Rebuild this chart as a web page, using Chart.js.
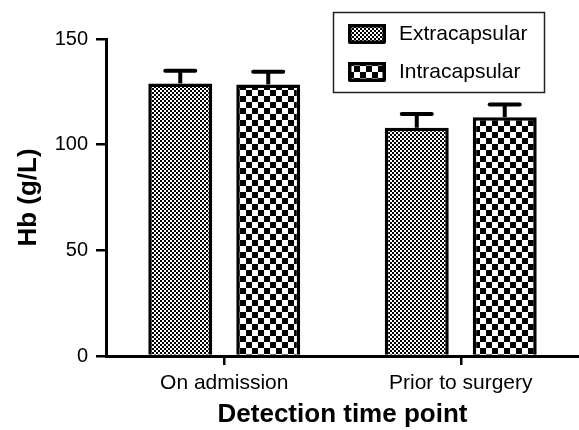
<!DOCTYPE html>
<html><head><meta charset="utf-8">
<script src="https://cdn.jsdelivr.net/npm/chart.js@4"></script>
<style>html,body{margin:0;padding:0;background:#fff}#wrap{width:579px;height:430px}</style>
</head><body><div id="wrap"><canvas id="c" width="579" height="430"></canvas></div>
<script>
const categories = ['On admission', 'Prior to surgery'];
const seriesNames = ['Extracapsular', 'Intracapsular'];
const extracapsular = [129, 108];
const extracapsularErr = [6, 6.5];
const intracapsular = [128.5, 113];
const intracapsularErr = [6, 6];
const yTicks = [0, 50, 100, 150];

const FAM = '"Liberation Sans", Arial, sans-serif';
const canvas = document.getElementById('c');
const ctx = canvas.getContext('2d');

function makePattern(cell, ink) {
  const c = document.createElement('canvas');
  c.width = c.height = cell * 2;
  const g = c.getContext('2d');
  g.fillStyle = '#fff'; g.fillRect(0, 0, cell * 2, cell * 2);
  g.fillStyle = '#000';
  g.fillRect(0, 0, ink, ink);
  g.fillRect(cell, cell, ink, ink);
  return ctx.createPattern(c, 'repeat');
}
const finePattern = makePattern(2, 2);
const coarsePattern = makePattern(6, 6);

const errorBars = {
  id: 'errorBars',
  afterDatasetsDraw(chart) {
    const c = chart.ctx, y = chart.scales.y;
    chart.data.datasets.forEach((ds, di) => {
      const meta = chart.getDatasetMeta(di);
      meta.data.forEach((bar, i) => {
        const top = y.getPixelForValue(ds.data[i] + ds.errors[i]);
        c.save();
        c.strokeStyle = '#000';
        c.lineWidth = 4;
        c.beginPath(); c.moveTo(bar.x, bar.y); c.lineTo(bar.x, top); c.stroke();
        c.lineCap = 'round';
        c.beginPath(); c.moveTo(bar.x - 15, top); c.lineTo(bar.x + 15, top); c.stroke();
        c.restore();
      });
    });
  }
};

const legendBox = {
  id: 'legendBox',
  afterDraw(chart) {
    const c = chart.ctx;
    c.save();
    c.strokeStyle = '#222'; c.lineWidth = 1.5;
    c.strokeRect(333.5, 12.5, 211, 80);
    chart.data.datasets.forEach((ds, i) => {
      const y0 = 24 + i * 38;
      c.fillStyle = ds.backgroundColor;
      c.fillRect(348, y0, 38, 20);
      c.strokeStyle = '#000'; c.lineWidth = 3.5;
      c.lineJoin = 'round';
      c.strokeRect(349.75, y0 + 1.75, 34.5, 16.5);
      c.fillStyle = '#000';
      c.font = '21px ' + FAM;
      c.textBaseline = 'middle'; c.textAlign = 'left';
      c.fillText(ds.label, 399, y0 + 10);
    });
    c.restore();
  }
};

new Chart(ctx, {
  type: 'bar',
  data: {
    labels: categories,
    datasets: [
      { label: seriesNames[0], data: extracapsular, errors: extracapsularErr,
        backgroundColor: finePattern, borderColor: '#000', borderWidth: 3.5,
        categoryPercentage: 0.744, barPercentage: 0.727 },
      { label: seriesNames[1], data: intracapsular, errors: intracapsularErr,
        backgroundColor: coarsePattern, borderColor: '#000', borderWidth: 3.5,
        categoryPercentage: 0.744, barPercentage: 0.727 }
    ]
  },
  options: {
    responsive: false, animation: false, devicePixelRatio: 1,
    layout: { padding: { left: 4, top: 39, right: 0, bottom: 0 } },
    plugins: { legend: { display: false }, tooltip: { enabled: false } },
    scales: {
      x: {
        grid: { display: true, offset: false, drawOnChartArea: false, drawTicks: true, tickLength: 9, color: '#000', lineWidth: 2.5 },
        border: { display: true, color: '#000', width: 3 },
        ticks: { font: { family: FAM, size: 21 }, color: '#000', padding: 6 },
        title: { display: true, text: 'Detection time point', color: '#000',
          font: { family: FAM, size: 26, weight: 'bold' }, padding: { top: 0, bottom: 0 } },
        afterFit(s) { s.height = 74; }
      },
      y: {
        min: 0, max: 150,
        afterBuildTicks(s) { s.ticks = yTicks.map(v => ({ value: v })); },
        grid: { drawOnChartArea: false, drawTicks: true, tickLength: 10, color: '#000', lineWidth: 2.5 },
        border: { display: true, color: '#000', width: 3 },
        ticks: { font: { family: FAM, size: 20 }, color: '#000', padding: 8 },
        title: { display: true, text: 'Hb (g/L)', color: '#000',
          font: { family: FAM, size: 26, weight: 'bold' }, padding: { top: 9, bottom: 0 } },
        afterFit(s) { s.width = 102; }
      }
    }
  },
  plugins: [errorBars, legendBox]
});
</script></body></html>
